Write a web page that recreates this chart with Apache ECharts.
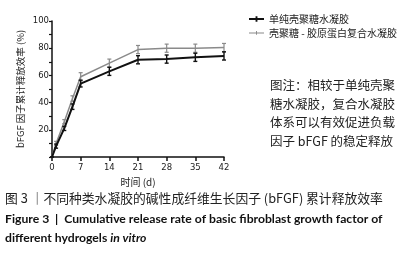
<!DOCTYPE html>
<html>
<head>
	<meta charset="utf-8">
	<title>bFGF 累计释放</title>
	<script src="https://cdn.jsdelivr.net/npm/echarts@6/dist/echarts.min.js"></script>
	<style>
		html, body { margin: 0; padding: 0; background: #fff; }
	</style>
</head>
<body>
	<div id="main" style="width: 406px; height: 254px"></div>
	<script type="text/javascript">
		// 数据
		var days = [0, 1, 3, 5, 7, 14, 21, 28, 35, 42];
		var chitosan = [0, 8, 21, 37, 54, 63, 71.5, 72, 73.3, 74.3];
		var chitosanErr = [0, 1.5, 1.5, 2, 2.5, 3, 3, 3, 3, 3];
		var composite = [0, 10, 26, 43, 59, 69, 79, 80, 80, 80.5];
		var compositeErr = [0, 1.5, 1.5, 2, 3, 3, 3, 3, 3, 3];
		var xTicks = [0, 7, 14, 21, 28, 35, 42];
		var seriesNames = ['单纯壳聚糖水凝胶', '壳聚糖 - 胶原蛋白复合水凝胶'];

		var CJK = '"Noto Sans CJK SC", "DejaVu Sans", sans-serif';
		var myChart = echarts.init(document.getElementById('main'));

		function pairs(ys) {
			return days.map(function (d, i) { return [d, ys[i]]; });
		}
		function errData(ys, es) {
			return days.map(function (d, i) { return [d, ys[i] - es[i], ys[i] + es[i]]; });
		}
		//误差线
		function errorBar(color, width) {
			return function (params, api) {
				var lo = api.coord([api.value(0), api.value(1)]);
				var hi = api.coord([api.value(0), api.value(2)]);
				var c = 2;
				var st = { stroke: color, lineWidth: width };
				return {
					type: 'group',
					children: [
						{ type: 'line', shape: { x1: lo[0], y1: lo[1], x2: hi[0], y2: hi[1] }, style: st },
						{ type: 'line', shape: { x1: lo[0] - c, y1: lo[1], x2: lo[0] + c, y2: lo[1] }, style: st },
						{ type: 'line', shape: { x1: hi[0] - c, y1: hi[1], x2: hi[0] + c, y2: hi[1] }, style: st }
					]
				};
			};
		}

		var option = {
			animation: false,
			grid: { left: 52, right: 182, top: 21, bottom: 97 },
			legend: {
				data: [
					{ name: seriesNames[0], icon: 'path://M0,3h16v2H0z M7,1h2v6H7z' },
					{ name: seriesNames[1], icon: 'path://M0,3.5h16v1H0z M7.5,2h1v4h-1z' }
				],
				orient: 'vertical',
				left: 244,
				top: 9,
				itemWidth: 15,
				itemHeight: 7,
				itemGap: 4,
				textStyle: { fontFamily: CJK, fontSize: 10, color: '#222' }
			},
			xAxis: {
				type: 'value',
				min: 0, max: 42, interval: 7,
				name: '时间 (d)',
				nameLocation: 'middle',
				nameGap: 20,
				nameTextStyle: { fontFamily: CJK, fontSize: 10, color: '#222' },
				axisLine: { lineStyle: { color: '#111', width: 1.5 } },
				axisTick: { length: 4, lineStyle: { color: '#111', width: 1.5 } },
				axisLabel: { fontFamily: 'DejaVu Sans', fontSize: 8.5, color: '#222', margin: 6 },
				splitLine: { show: false }
			},
			yAxis: {
				type: 'value',
				min: 0, max: 100, interval: 20,
				name: 'bFGF 因子累计释放效率 (%)',
				nameLocation: 'middle',
				nameRotate: 90,
				nameGap: 27,
				nameTextStyle: { fontFamily: CJK, fontSize: 9.5, color: '#222' },
				axisLine: { show: true, lineStyle: { color: '#111', width: 1.5 } },
				axisTick: { show: true, length: 3, lineStyle: { color: '#111', width: 1.2 } },
				minorTick: { show: true, splitNumber: 2, length: 3, lineStyle: { color: '#111', width: 1.2 } },
				axisLabel: {
					fontFamily: 'DejaVu Sans', fontSize: 8.5, color: '#222', margin: 3,
					formatter: function (v) { return v === 0 ? '' : v; }
				},
				splitLine: { show: false }
			},
			graphic: [
				{
					type: 'text', left: 270, top: 76,
					style: {
						text: '图注：相较于单纯壳聚\n糖水凝胶，复合水凝胶\n体系可以有效促进负载\n因子 bFGF 的稳定释放',
						font: '12.5px ' + CJK, fill: '#222', lineHeight: 18.5
					}
				},
				{
					type: 'text', left: 5, top: 192,
					style: { text: '图 3 ｜不同种类水凝胶的碱性成纤维生长因子 (bFGF) 累计释放效率', font: '12.8px ' + CJK, fill: '#222' }
				},
				{
					type: 'text', left: 5, top: 213,
					style: { text: 'Figure 3  |  Cumulative release rate of basic fibroblast growth factor of', font: 'bold 12.2px Lato, sans-serif', fill: '#111' }
				},
				{
					type: 'text', left: 5, top: 232,
					style: {
						text: '{a|different hydrogels }{b|in vitro}',
						rich: {
							a: { font: 'bold 12.2px Lato, sans-serif', fill: '#111' },
							b: { font: 'italic bold 12.2px Lato, sans-serif', fill: '#111' }
						}
					}
				}
			],
			series: [
				{
					name: seriesNames[1], type: 'line', data: pairs(composite),
					symbol: 'none', color: '#8a8a8a',
					lineStyle: { width: 1.5, color: '#8a8a8a' }, z: 2
				},
				{
					type: 'custom', data: errData(composite, compositeErr),
					renderItem: errorBar('#8a8a8a', 1.2), encode: { x: 0, y: [1, 2] }, z: 2
				},
				{
					name: seriesNames[0], type: 'line', data: pairs(chitosan),
					symbol: 'none', color: '#111',
					lineStyle: { width: 2, color: '#111' }, z: 3
				},
				{
					type: 'custom', data: errData(chitosan, chitosanErr),
					renderItem: errorBar('#111', 1.4), encode: { x: 0, y: [1, 2] }, z: 3
				}
			]
		};
		myChart.setOption(option);
	</script>
</body>
</html>
